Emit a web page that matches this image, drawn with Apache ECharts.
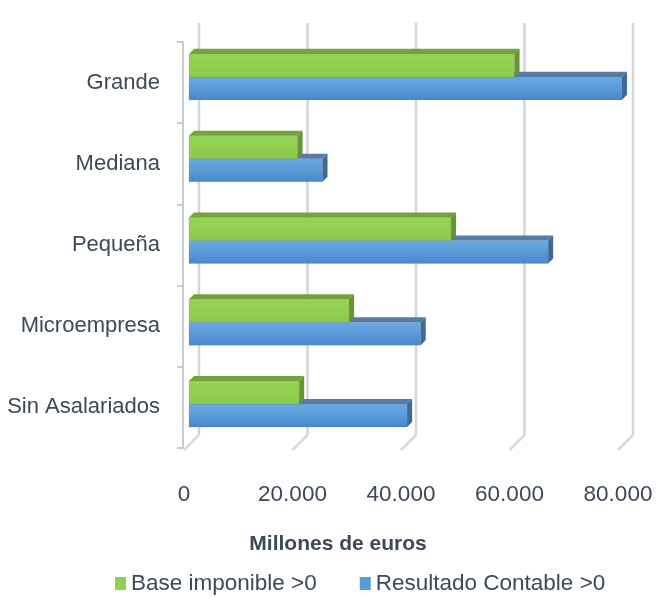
<!DOCTYPE html>
<html>
<head>
<meta charset="utf-8">
<script src="https://cdn.jsdelivr.net/npm/echarts@6/dist/echarts.min.js"></script>
<style>html,body{margin:0;padding:0;background:#fff}#c{width:656px;height:598px}</style>
</head>
<body>
<div id="c"></div>
<script>
const categories = ['Grande', 'Mediana', 'Pequeña', 'Microempresa', 'Sin Asalariados'];
const baseImponible = [60000, 20000, 48300, 29500, 20300];
const resultadoContable = [79800, 24600, 66200, 42700, 40200];
const xTicks = [0, 20000, 40000, 60000, 80000];
const seriesNames = ['Base imponible >0', 'Resultado Contable >0'];
const axisTitle = 'Millones de euros';

const FONT = '"Liberation Sans", Arial, sans-serif';
const TXT = '#3d4858';
const fmt = v => String(v).replace(/\B(?=(\d{3})+(?!\d))/g, '.');

const chart = echarts.init(document.getElementById('c'), null, {renderer: 'canvas'});

function barRenderer(kind) {
  return function (params, api) {
    const v = api.value(0), i = api.value(1);
    const c0 = api.coord([0, i]), c1 = api.coord([v, i]);
    const band = api.size([0, 1])[1];
    const h = band * 0.281;
    const d = h * 0.22;
    const top = kind === 'base' ? c0[1] - h : c0[1];
    const x0 = c0[0], x1 = c1[0];
    let front, topC, sideC;
    if (kind === 'base') {
      front = new echarts.graphic.LinearGradient(0, 0, 0, 1, [
        {offset: 0, color: '#96d455'}, {offset: 1, color: '#8ccb4a'}]);
      topC = '#74a23c'; sideC = '#67933a';
    } else {
      front = new echarts.graphic.LinearGradient(0, 0, 0, 1, [
        {offset: 0, color: '#6ba9e2'}, {offset: 0.5, color: '#5b9bd8'}, {offset: 1, color: '#4786cc'}]);
      topC = '#547ca6'; sideC = '#3f6a98';
    }
    return {
      type: 'group',
      children: [
        {type: 'rect', shape: {x: x0, y: top, width: x1 - x0, height: h},
          style: {fill: front, stroke: 'rgba(120,120,120,0.18)', lineWidth: 1}},
        {type: 'polygon', shape: {points: [[x0, top], [x0 + d, top - d], [x1 + d, top - d], [x1, top]]},
          style: {fill: topC}},
        {type: 'polygon', shape: {points: [[x1, top], [x1 + d, top - d], [x1 + d, top + h - d], [x1, top + h]]},
          style: {fill: sideC}}
      ]
    };
  };
}

function wallRenderer(params, api) {
  const v = api.value(0);
  const b = api.coord([v, 0]);
  const t = api.coord([v, 1]);
  const depth = 15;
  return {
    type: 'group',
    children: [
      {type: 'line', shape: {x1: b[0], y1: b[1], x2: t[0], y2: t[1]},
        style: {stroke: '#d2d5da', lineWidth: 2.5}},
      {type: 'line', shape: {x1: b[0], y1: b[1], x2: b[0] - depth, y2: b[1] + depth},
        style: {stroke: '#d6d9de', lineWidth: 2.5}}
    ]
  };
}

const option = {
  backgroundColor: '#ffffff',
  animation: false,
  legend: {
    data: seriesNames,
    left: 110, top: 567,
    icon: 'rect', itemWidth: 11, itemHeight: 13, itemGap: 43,
    textStyle: {fontFamily: FONT, fontSize: 22.5, color: TXT}
  },
  graphic: [{
    type: 'text', x: 338, y: 544,
    style: {text: axisTitle, fontFamily: FONT, fontSize: 21, fontWeight: 'bold', fill: TXT,
      align: 'center', verticalAlign: 'middle'}
  }],
  grid: [
    {left: 189, right: 33, top: 36, bottom: 153},   // bars (front plane)
    {left: 199, right: 23, top: 23, bottom: 163},   // back wall
    {left: 183, width: 1, top: 42, bottom: 150},    // left wall
    {left: 184, right: 38, top: 100, bottom: 148}   // floor front (labels)
  ],
  xAxis: [
    {gridIndex: 0, type: 'value', min: 0, max: 80000, interval: 20000, show: false},
    {gridIndex: 1, type: 'value', min: 0, max: 80000, interval: 20000, show: false},
    {gridIndex: 2, type: 'value', show: false},
    {gridIndex: 3, type: 'value', min: 0, max: 80000, interval: 20000,
      axisLine: {show: false}, axisTick: {show: false}, splitLine: {show: false},
      axisLabel: {margin: 33, fontFamily: FONT, fontSize: 22.5, color: TXT, formatter: fmt}}
  ],
  yAxis: [
    {gridIndex: 0, type: 'category', data: categories, inverse: true, show: false},
    {gridIndex: 1, type: 'value', min: 0, max: 1, show: false},
    {gridIndex: 2, type: 'category', data: categories, inverse: true,
      axisLine: {show: true, lineStyle: {color: '#c9ccd2', width: 2}},
      axisTick: {show: true, length: 6, lineStyle: {color: '#b9bcc2', width: 1.5}},
      axisLabel: {margin: 23, fontFamily: FONT, fontSize: 22, color: TXT}},
    {gridIndex: 3, type: 'value', show: false}
  ],
  series: [
    {name: 'wall', type: 'custom', xAxisIndex: 1, yAxisIndex: 1, z: 1, silent: true,
      renderItem: wallRenderer, data: xTicks.map(v => [v, 0]), encode: {x: 0, y: 1}},
    {name: seriesNames[1], type: 'custom', xAxisIndex: 0, yAxisIndex: 0, z: 3,
      itemStyle: {color: '#5b9bd5'},
      renderItem: barRenderer('res'), data: resultadoContable.map((v, i) => [v, i]), encode: {x: 0, y: 1}},
    {name: seriesNames[0], type: 'custom', xAxisIndex: 0, yAxisIndex: 0, z: 4,
      itemStyle: {color: '#92d050'},
      renderItem: barRenderer('base'), data: baseImponible.map((v, i) => [v, i]), encode: {x: 0, y: 1}}
  ]
};
chart.setOption(option);
</script>
</body>
</html>
